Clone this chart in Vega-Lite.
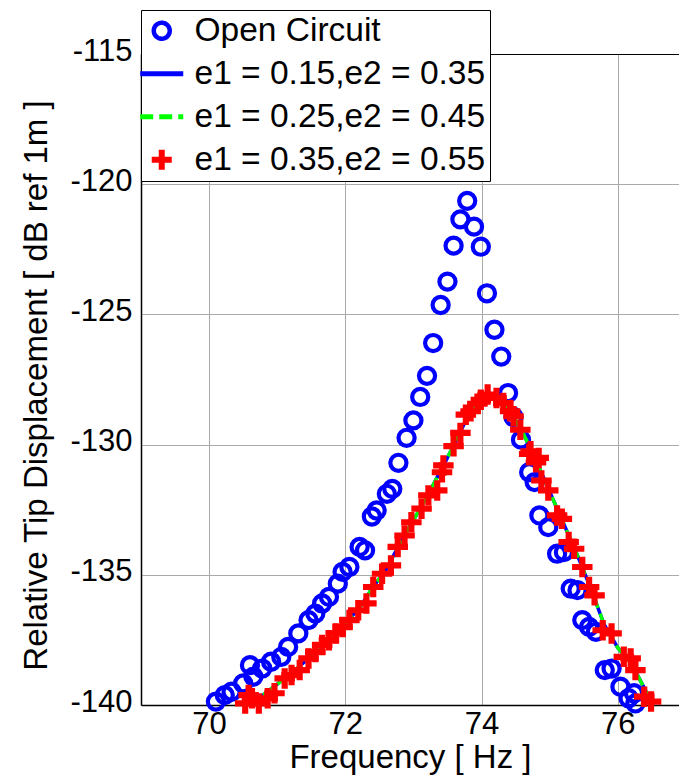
{
  "$schema": "https://vega.github.io/schema/vega-lite/v6.json",
  "width": 538,
  "height": 651,
  "autosize": {"type": "none"},
  "padding": {"left": 141, "top": 54, "right": 0, "bottom": 71},
  "background": "white",
  "config": {
    "view": {"stroke": null},
    "font": "Liberation Sans"
  },
  "datasets": {
    "oc": [
      {"s": "Open Circuit", "f": 73.79, "db": -120.64}, {"s": "Open Circuit", "f": 73.69, "db": -121.35}, {"s": "Open Circuit", "f": 73.89, "db": -121.63},
      {"s": "Open Circuit", "f": 73.59, "db": -122.36}, {"s": "Open Circuit", "f": 73.99, "db": -122.40}, {"s": "Open Circuit", "f": 73.50, "db": -123.74},
      {"s": "Open Circuit", "f": 74.08, "db": -124.19}, {"s": "Open Circuit", "f": 73.40, "db": -124.64}, {"s": "Open Circuit", "f": 74.19, "db": -125.59},
      {"s": "Open Circuit", "f": 73.29, "db": -126.10}, {"s": "Open Circuit", "f": 74.29, "db": -126.62}, {"s": "Open Circuit", "f": 73.20, "db": -127.36},
      {"s": "Open Circuit", "f": 74.39, "db": -128.02}, {"s": "Open Circuit", "f": 73.10, "db": -128.17}, {"s": "Open Circuit", "f": 74.47, "db": -128.94},
      {"s": "Open Circuit", "f": 73.00, "db": -129.07}, {"s": "Open Circuit", "f": 74.58, "db": -129.81}, {"s": "Open Circuit", "f": 72.90, "db": -129.74},
      {"s": "Open Circuit", "f": 72.78, "db": -130.70}, {"s": "Open Circuit", "f": 72.69, "db": -131.70}, {"s": "Open Circuit", "f": 72.61, "db": -131.89},
      {"s": "Open Circuit", "f": 72.46, "db": -132.53}, {"s": "Open Circuit", "f": 72.39, "db": -132.76}, {"s": "Open Circuit", "f": 74.70, "db": -131.06},
      {"s": "Open Circuit", "f": 74.78, "db": -131.44}, {"s": "Open Circuit", "f": 74.85, "db": -132.72}, {"s": "Open Circuit", "f": 74.98, "db": -133.17},
      {"s": "Open Circuit", "f": 75.11, "db": -134.19}, {"s": "Open Circuit", "f": 75.21, "db": -134.13}, {"s": "Open Circuit", "f": 75.31, "db": -135.53},
      {"s": "Open Circuit", "f": 75.41, "db": -135.59}, {"s": "Open Circuit", "f": 75.48, "db": -136.74}, {"s": "Open Circuit", "f": 75.58, "db": -137.00},
      {"s": "Open Circuit", "f": 75.68, "db": -137.19}, {"s": "Open Circuit", "f": 75.81, "db": -138.66}, {"s": "Open Circuit", "f": 75.91, "db": -138.60},
      {"s": "Open Circuit", "f": 76.04, "db": -139.30}, {"s": "Open Circuit", "f": 76.16, "db": -139.74}, {"s": "Open Circuit", "f": 76.26, "db": -139.94},
      {"s": "Open Circuit", "f": 76.24, "db": -139.55}, {"s": "Open Circuit", "f": 72.29, "db": -134.06}, {"s": "Open Circuit", "f": 72.21, "db": -133.93},
      {"s": "Open Circuit", "f": 72.06, "db": -134.70}, {"s": "Open Circuit", "f": 71.96, "db": -134.89}, {"s": "Open Circuit", "f": 71.89, "db": -135.34},
      {"s": "Open Circuit", "f": 71.76, "db": -135.85}, {"s": "Open Circuit", "f": 71.66, "db": -136.10}, {"s": "Open Circuit", "f": 71.56, "db": -136.49},
      {"s": "Open Circuit", "f": 71.46, "db": -136.74}, {"s": "Open Circuit", "f": 71.31, "db": -137.25}, {"s": "Open Circuit", "f": 71.16, "db": -137.77},
      {"s": "Open Circuit", "f": 71.06, "db": -138.15}, {"s": "Open Circuit", "f": 70.91, "db": -138.34}, {"s": "Open Circuit", "f": 70.78, "db": -138.60},
      {"s": "Open Circuit", "f": 70.60, "db": -138.47}, {"s": "Open Circuit", "f": 70.65, "db": -138.91}, {"s": "Open Circuit", "f": 70.50, "db": -139.17},
      {"s": "Open Circuit", "f": 70.33, "db": -139.49}, {"s": "Open Circuit", "f": 70.23, "db": -139.62}, {"s": "Open Circuit", "f": 70.10, "db": -139.87}
    ],
    "lnb": [
      {"s": "e1 = 0.15,e2 = 0.35", "f": 70.55, "db": -139.9}, {"s": "e1 = 0.15,e2 = 0.35", "f": 70.8, "db": -139.6},
      {"s": "e1 = 0.15,e2 = 0.35", "f": 71.0, "db": -139.2}, {"s": "e1 = 0.15,e2 = 0.35", "f": 71.2, "db": -138.8},
      {"s": "e1 = 0.15,e2 = 0.35", "f": 71.4, "db": -138.35}, {"s": "e1 = 0.15,e2 = 0.35", "f": 71.6, "db": -137.9},
      {"s": "e1 = 0.15,e2 = 0.35", "f": 71.8, "db": -137.4}, {"s": "e1 = 0.15,e2 = 0.35", "f": 72.0, "db": -136.85},
      {"s": "e1 = 0.15,e2 = 0.35", "f": 72.2, "db": -136.3}, {"s": "e1 = 0.15,e2 = 0.35", "f": 72.4, "db": -135.5},
      {"s": "e1 = 0.15,e2 = 0.35", "f": 72.6, "db": -134.8}, {"s": "e1 = 0.15,e2 = 0.35", "f": 72.8, "db": -133.8},
      {"s": "e1 = 0.15,e2 = 0.35", "f": 73.0, "db": -132.9}, {"s": "e1 = 0.15,e2 = 0.35", "f": 73.2, "db": -132.0},
      {"s": "e1 = 0.15,e2 = 0.35", "f": 73.4, "db": -131.0}, {"s": "e1 = 0.15,e2 = 0.35", "f": 73.6, "db": -130.0},
      {"s": "e1 = 0.15,e2 = 0.35", "f": 73.8, "db": -128.9}, {"s": "e1 = 0.15,e2 = 0.35", "f": 74.0, "db": -128.25},
      {"s": "e1 = 0.15,e2 = 0.35", "f": 74.1, "db": -128.1}, {"s": "e1 = 0.15,e2 = 0.35", "f": 74.25, "db": -128.25},
      {"s": "e1 = 0.15,e2 = 0.35", "f": 74.45, "db": -128.85}, {"s": "e1 = 0.15,e2 = 0.35", "f": 74.6, "db": -129.5},
      {"s": "e1 = 0.15,e2 = 0.35", "f": 74.8, "db": -130.6}, {"s": "e1 = 0.15,e2 = 0.35", "f": 75.0, "db": -131.8},
      {"s": "e1 = 0.15,e2 = 0.35", "f": 75.2, "db": -133.0}, {"s": "e1 = 0.15,e2 = 0.35", "f": 75.4, "db": -134.2},
      {"s": "e1 = 0.15,e2 = 0.35", "f": 75.6, "db": -135.5}, {"s": "e1 = 0.15,e2 = 0.35", "f": 75.8, "db": -136.9},
      {"s": "e1 = 0.15,e2 = 0.35", "f": 76.0, "db": -137.8}, {"s": "e1 = 0.15,e2 = 0.35", "f": 76.2, "db": -138.4},
      {"s": "e1 = 0.15,e2 = 0.35", "f": 76.4, "db": -139.4}, {"s": "e1 = 0.15,e2 = 0.35", "f": 76.5, "db": -140.0}
    ],
    "lng": [
      {"s": "e1 = 0.25,e2 = 0.45", "f": 70.55, "db": -139.9}, {"s": "e1 = 0.25,e2 = 0.45", "f": 70.8, "db": -139.6},
      {"s": "e1 = 0.25,e2 = 0.45", "f": 71.0, "db": -139.2}, {"s": "e1 = 0.25,e2 = 0.45", "f": 71.2, "db": -138.8},
      {"s": "e1 = 0.25,e2 = 0.45", "f": 71.4, "db": -138.35}, {"s": "e1 = 0.25,e2 = 0.45", "f": 71.6, "db": -137.9},
      {"s": "e1 = 0.25,e2 = 0.45", "f": 71.8, "db": -137.4}, {"s": "e1 = 0.25,e2 = 0.45", "f": 72.0, "db": -136.85},
      {"s": "e1 = 0.25,e2 = 0.45", "f": 72.2, "db": -136.3}, {"s": "e1 = 0.25,e2 = 0.45", "f": 72.4, "db": -135.5},
      {"s": "e1 = 0.25,e2 = 0.45", "f": 72.6, "db": -134.8}, {"s": "e1 = 0.25,e2 = 0.45", "f": 72.8, "db": -133.8},
      {"s": "e1 = 0.25,e2 = 0.45", "f": 73.0, "db": -132.9}, {"s": "e1 = 0.25,e2 = 0.45", "f": 73.2, "db": -132.0},
      {"s": "e1 = 0.25,e2 = 0.45", "f": 73.4, "db": -131.0}, {"s": "e1 = 0.25,e2 = 0.45", "f": 73.6, "db": -130.0},
      {"s": "e1 = 0.25,e2 = 0.45", "f": 73.8, "db": -128.9}, {"s": "e1 = 0.25,e2 = 0.45", "f": 74.0, "db": -128.25},
      {"s": "e1 = 0.25,e2 = 0.45", "f": 74.1, "db": -128.1}, {"s": "e1 = 0.25,e2 = 0.45", "f": 74.25, "db": -128.25},
      {"s": "e1 = 0.25,e2 = 0.45", "f": 74.45, "db": -128.85}, {"s": "e1 = 0.25,e2 = 0.45", "f": 74.6, "db": -129.5},
      {"s": "e1 = 0.25,e2 = 0.45", "f": 74.8, "db": -130.6}, {"s": "e1 = 0.25,e2 = 0.45", "f": 75.0, "db": -131.8},
      {"s": "e1 = 0.25,e2 = 0.45", "f": 75.2, "db": -133.0}, {"s": "e1 = 0.25,e2 = 0.45", "f": 75.4, "db": -134.2},
      {"s": "e1 = 0.25,e2 = 0.45", "f": 75.6, "db": -135.5}, {"s": "e1 = 0.25,e2 = 0.45", "f": 75.8, "db": -136.9},
      {"s": "e1 = 0.25,e2 = 0.45", "f": 76.0, "db": -137.8}, {"s": "e1 = 0.25,e2 = 0.45", "f": 76.2, "db": -138.4},
      {"s": "e1 = 0.25,e2 = 0.45", "f": 76.4, "db": -139.4}, {"s": "e1 = 0.25,e2 = 0.45", "f": 76.5, "db": -140.0}
    ],
    "cr": [
      {"s": "e1 = 0.35,e2 = 0.55", "f": 74.09, "db": -128.08}, {"s": "e1 = 0.35,e2 = 0.55", "f": 73.99, "db": -128.28}, {"s": "e1 = 0.35,e2 = 0.55", "f": 74.22, "db": -128.21},
      {"s": "e1 = 0.35,e2 = 0.55", "f": 73.94, "db": -128.43}, {"s": "e1 = 0.35,e2 = 0.55", "f": 73.84, "db": -128.72}, {"s": "e1 = 0.35,e2 = 0.55", "f": 73.77, "db": -128.85},
      {"s": "e1 = 0.35,e2 = 0.55", "f": 74.32, "db": -128.40}, {"s": "e1 = 0.35,e2 = 0.55", "f": 74.42, "db": -128.72}, {"s": "e1 = 0.35,e2 = 0.55", "f": 74.47, "db": -128.91},
      {"s": "e1 = 0.35,e2 = 0.55", "f": 74.57, "db": -129.43}, {"s": "e1 = 0.35,e2 = 0.55", "f": 73.69, "db": -129.55}, {"s": "e1 = 0.35,e2 = 0.55", "f": 73.59, "db": -130.06},
      {"s": "e1 = 0.35,e2 = 0.55", "f": 74.72, "db": -130.26}, {"s": "e1 = 0.35,e2 = 0.55", "f": 74.84, "db": -130.51}, {"s": "e1 = 0.35,e2 = 0.55", "f": 73.44, "db": -130.80},
      {"s": "e1 = 0.35,e2 = 0.55", "f": 73.42, "db": -131.06}, {"s": "e1 = 0.35,e2 = 0.55", "f": 73.35, "db": -131.76}, {"s": "e1 = 0.35,e2 = 0.55", "f": 73.22, "db": -131.95},
      {"s": "e1 = 0.35,e2 = 0.55", "f": 73.12, "db": -132.46}, {"s": "e1 = 0.35,e2 = 0.55", "f": 72.97, "db": -132.98}, {"s": "e1 = 0.35,e2 = 0.55", "f": 72.87, "db": -133.49},
      {"s": "e1 = 0.35,e2 = 0.55", "f": 72.77, "db": -133.93}, {"s": "e1 = 0.35,e2 = 0.55", "f": 72.67, "db": -134.64}, {"s": "e1 = 0.35,e2 = 0.55", "f": 72.54, "db": -134.96},
      {"s": "e1 = 0.35,e2 = 0.55", "f": 72.41, "db": -135.47}, {"s": "e1 = 0.35,e2 = 0.55", "f": 72.31, "db": -136.10}, {"s": "e1 = 0.35,e2 = 0.55", "f": 72.19, "db": -136.36},
      {"s": "e1 = 0.35,e2 = 0.55", "f": 72.06, "db": -136.74}, {"s": "e1 = 0.35,e2 = 0.55", "f": 71.96, "db": -137.00}, {"s": "e1 = 0.35,e2 = 0.55", "f": 71.86, "db": -137.25},
      {"s": "e1 = 0.35,e2 = 0.55", "f": 71.76, "db": -137.51}, {"s": "e1 = 0.35,e2 = 0.55", "f": 71.66, "db": -137.70}, {"s": "e1 = 0.35,e2 = 0.55", "f": 71.56, "db": -137.96},
      {"s": "e1 = 0.35,e2 = 0.55", "f": 71.46, "db": -138.21}, {"s": "e1 = 0.35,e2 = 0.55", "f": 71.33, "db": -138.66}, {"s": "e1 = 0.35,e2 = 0.55", "f": 71.21, "db": -138.85},
      {"s": "e1 = 0.35,e2 = 0.55", "f": 71.11, "db": -138.98}, {"s": "e1 = 0.35,e2 = 0.55", "f": 70.96, "db": -139.55}, {"s": "e1 = 0.35,e2 = 0.55", "f": 70.86, "db": -139.74},
      {"s": "e1 = 0.35,e2 = 0.55", "f": 70.73, "db": -139.94}, {"s": "e1 = 0.35,e2 = 0.55", "f": 70.63, "db": -139.74}, {"s": "e1 = 0.35,e2 = 0.55", "f": 70.58, "db": -139.62},
      {"s": "e1 = 0.35,e2 = 0.55", "f": 70.53, "db": -139.94}, {"s": "e1 = 0.35,e2 = 0.55", "f": 74.70, "db": -130.36}, {"s": "e1 = 0.35,e2 = 0.55", "f": 74.80, "db": -130.68},
      {"s": "e1 = 0.35,e2 = 0.55", "f": 74.88, "db": -131.38}, {"s": "e1 = 0.35,e2 = 0.55", "f": 74.98, "db": -131.76}, {"s": "e1 = 0.35,e2 = 0.55", "f": 75.11, "db": -132.72},
      {"s": "e1 = 0.35,e2 = 0.55", "f": 75.18, "db": -132.85}, {"s": "e1 = 0.35,e2 = 0.55", "f": 75.28, "db": -133.74}, {"s": "e1 = 0.35,e2 = 0.55", "f": 75.36, "db": -134.00},
      {"s": "e1 = 0.35,e2 = 0.55", "f": 75.48, "db": -134.70}, {"s": "e1 = 0.35,e2 = 0.55", "f": 75.58, "db": -135.47}, {"s": "e1 = 0.35,e2 = 0.55", "f": 75.66, "db": -135.79},
      {"s": "e1 = 0.35,e2 = 0.55", "f": 75.78, "db": -137.13}, {"s": "e1 = 0.35,e2 = 0.55", "f": 75.91, "db": -137.25}, {"s": "e1 = 0.35,e2 = 0.55", "f": 76.09, "db": -138.15},
      {"s": "e1 = 0.35,e2 = 0.55", "f": 76.19, "db": -138.21}, {"s": "e1 = 0.35,e2 = 0.55", "f": 76.26, "db": -138.66}, {"s": "e1 = 0.35,e2 = 0.55", "f": 76.39, "db": -139.68},
      {"s": "e1 = 0.35,e2 = 0.55", "f": 76.49, "db": -139.87}
    ]
  },
  "encoding": {
    "x": {
      "field": "f", "type": "quantitative",
      "scale": {"domain": [69, 76.9], "nice": false, "zero": false},
      "axis": {
        "title": "Frequency [ Hz ]",
        "values": [70, 72, 74, 76],
        "grid": true, "gridColor": "#aaaaaa", "gridWidth": 1, "gridOpacity": 1,
        "domain": true, "domainColor": "black", "domainWidth": 1.5,
        "ticks": false, "tickSize": 0,
        "labelFont": "Liberation Sans", "labelFontSize": 31, "labelColor": "black", "labelPadding": 4,
        "labelFlush": false, "labelOverlap": false,
        "titleFont": "Liberation Sans", "titleFontSize": 33, "titleFontWeight": "normal", "titleColor": "black",
        "titleY": 62, "titleBaseline": "alphabetic"
      }
    },
    "y": {
      "field": "db", "type": "quantitative",
      "scale": {"domain": [-140, -115], "nice": false, "zero": false},
      "axis": {
        "title": "Relative Tip Displacement [ dB ref 1m ]",
        "values": [-140, -135, -130, -125, -120, -115],
        "labelExpr": "toString(datum.value)",
        "grid": true,
        "gridColor": {"condition": {"test": "datum.value === -115", "value": "black"}, "value": "#aaaaaa"},
        "gridWidth": 1, "gridOpacity": 1,
        "domain": true, "domainColor": "black", "domainWidth": 1.5,
        "ticks": false, "tickSize": 0,
        "labelFont": "Liberation Sans", "labelFontSize": 31, "labelColor": "black", "labelPadding": 9,
        "labelOffset": -3, "labelFlush": false, "labelOverlap": false,
        "titleFont": "Liberation Sans", "titleFontSize": 33, "titleFontWeight": "normal", "titleColor": "black",
        "titleAngle": -90, "titleX": -95, "titleY": 331, "titleAlign": "center", "titleBaseline": "alphabetic"
      }
    },
    "color": {
      "field": "s", "type": "nominal",
      "scale": {
        "domain": ["Open Circuit", "e1 = 0.15,e2 = 0.35", "e1 = 0.25,e2 = 0.45", "e1 = 0.35,e2 = 0.55"],
        "range": ["#0000ff", "#0000ff", "#00ff00", "#ff0000"]
      },
      "legend": {
        "title": null, "orient": "none", "legendX": 0, "legendY": -44, "direction": "vertical",
        "fillColor": "white", "strokeColor": "black",
        "padding": 4, "rowPadding": 8,
        "labelFont": "Liberation Sans", "labelFontSize": 33.5, "labelColor": "black", "labelOffset": 16, "labelLimit": 500,
        "symbolSize": 1849,
        "encode": {
          "symbols": {
            "update": {
              "shape": {"signal": "datum.value === 'Open Circuit' ? 'circle' : datum.value === 'e1 = 0.35,e2 = 0.55' ? 'M-1,-0.3H-0.3V-1H0.3V-0.3H1V0.3H0.3V1H-0.3V0.3H-1Z' : 'stroke'"},
              "size": {"signal": "datum.value === 'Open Circuit' ? 254 : datum.value === 'e1 = 0.35,e2 = 0.55' ? 400 : 1849"},
              "fill": {"signal": "datum.value === 'e1 = 0.35,e2 = 0.55' ? '#ff0000' : 'transparent'"},
              "fillOpacity": {"signal": "datum.value === 'e1 = 0.35,e2 = 0.55' ? 1 : 0"},
              "stroke": {"signal": "datum.value === 'e1 = 0.25,e2 = 0.45' ? '#00ff00' : datum.value === 'e1 = 0.35,e2 = 0.55' ? 'transparent' : '#0000ff'"},
              "strokeOpacity": {"signal": "datum.value === 'e1 = 0.35,e2 = 0.55' ? 0 : 1"},
              "strokeWidth": {"signal": "datum.value === 'Open Circuit' ? 4.5 : 5"},
              "strokeDash": {"signal": "datum.value === 'e1 = 0.25,e2 = 0.45' ? '13,6' : '1,0'"},
              "opacity": {"value": 1}
            }
          }
        }
      }
    }
  },
  "layer": [
    {
      "data": {"name": "oc"},
      "mark": {"type": "point", "shape": "circle", "filled": false, "size": 260, "strokeWidth": 4.2, "opacity": 1}
    },
    {
      "data": {"name": "lnb"},
      "mark": {"type": "line", "strokeWidth": 3.5}
    },
    {
      "data": {"name": "lng"},
      "mark": {"type": "line", "strokeWidth": 3.5, "strokeDash": [12, 6]}
    },
    {
      "data": {"name": "cr"},
      "mark": {"type": "point", "shape": "M-1,-0.3H-0.3V-1H0.3V-0.3H1V0.3H0.3V1H-0.3V0.3H-1Z", "filled": true, "size": 420, "strokeWidth": 0, "opacity": 1}
    }
  ]
}
